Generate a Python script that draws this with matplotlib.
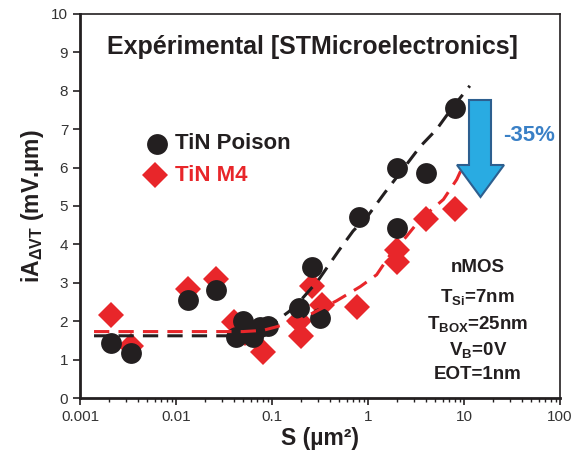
# -*- coding: utf-8 -*-

import numpy as np
import matplotlib
matplotlib.use('Agg')
import matplotlib.pyplot as plt
from matplotlib.patches import Polygon

plt.rcParams['font.family'] = ['Liberation Sans', 'DejaVu Sans']
plt.rcParams['mathtext.fontset'] = 'custom'
plt.rcParams['mathtext.rm'] = 'Liberation Sans'
plt.rcParams['mathtext.bf'] = 'Liberation Sans:bold'
plt.rcParams['mathtext.it'] = 'Liberation Sans:italic'

# measured data
s_poison = [0.0021, 0.0034, 0.0132, 0.026, 0.042, 0.050, 0.063, 0.075, 0.091,
            0.192, 0.263, 0.316, 0.81, 2.0, 2.0, 4.0, 8.0]
a_poison = [1.44, 1.18, 2.54, 2.82, 1.58, 2.01, 1.58, 1.85, 1.88,
            2.34, 3.41, 2.08, 4.72, 6.0, 4.43, 5.87, 7.56]

s_m4 = [0.0021, 0.0034, 0.0132, 0.026, 0.040, 0.052, 0.081, 0.19, 0.199,
        0.263, 0.33, 0.76, 2.0, 2.0, 4.0, 8.0]
a_m4 = [2.17, 1.36, 2.84, 3.10, 1.99, 1.70, 1.21, 2.0, 1.62,
        2.91, 2.43, 2.38, 3.86, 3.53, 4.65, 4.93]

# fitted trend lines
s_fit_poison = [0.0014, 0.04, 0.06, 0.08, 0.1, 0.15, 0.2, 0.3, 0.5, 0.7, 1.0,
                1.5, 2.3, 3.5, 5.2, 7.5, 9.5, 11.5]
a_fit_poison = [1.62, 1.62, 1.68, 1.78, 1.92, 2.25, 2.55, 3.05, 3.85, 4.35, 4.75,
                5.35, 5.95, 6.55, 7.0, 7.55, 7.87, 8.13]

s_fit_m4 = [0.0014, 0.05, 0.08, 0.11, 0.2, 0.3, 0.47, 0.83, 1.23, 1.7, 2.5,
            3.5, 6.1, 8.4, 10.0]
a_fit_m4 = [1.73, 1.73, 1.76, 1.85, 2.05, 2.28, 2.53, 2.9, 3.21, 3.73, 4.2,
            4.65, 5.17, 5.69, 6.1]

black = '#231f20'
red = '#e8262a'

fig = plt.figure(figsize=(5.73, 4.57), dpi=100)
ax = fig.add_axes([80 / 573, 1 - 398 / 457, 480 / 573, 384 / 457])

ax.plot(s_m4, a_m4, 'D', color=red, markersize=13, markeredgewidth=0, zorder=2)
ax.plot(s_poison, a_poison, 'o', color=black, markersize=15, markeredgewidth=0, zorder=3)
ax.plot(s_fit_poison, a_fit_poison, color=black, lw=2.2, dashes=(5, 3), zorder=4)
ax.plot(s_fit_m4, a_fit_m4, color=red, lw=2.2, dashes=(5, 3), zorder=4)

ax.set_xscale('log')
ax.set_xlim(0.001, 100)
ax.set_ylim(0, 10)
ax.set_yticks(range(0, 11))
ax.set_xticks([0.001, 0.01, 0.1, 1, 10, 100])
ax.set_xticklabels(['0.001', '0.01', '0.1', '1', '10', '100'])
ax.tick_params(axis='both', which='major', direction='out', length=5, width=1.2,
               labelsize=11, labelcolor='#333333', color=black)
ax.tick_params(axis='x', which='minor', direction='out', length=3, width=1, color=black)
ax.tick_params(axis='y', right=False)
for side in ['left', 'bottom']:
    ax.spines[side].set_linewidth(2)
    ax.spines[side].set_color(black)
for side in ['top', 'right']:
    ax.spines[side].set_linewidth(1.2)
    ax.spines[side].set_color(black)

ax.set_xlabel('S (µm²)', fontsize=16.5, fontweight='bold', color=black, labelpad=2)
ax.set_ylabel(r'iA$_{\mathbf{\Delta VT}}$ (mV.µm)', fontsize=16.5, fontweight='bold',
              color=black, labelpad=4)

ax.text(0.484, 0.914, 'Expérimental [STMicroelectronics]', transform=ax.transAxes,
        ha='center', va='center', fontsize=18, fontweight='bold', color=black)

# legend
ax.plot([0.0063], [6.62], 'o', color=black, markersize=15, markeredgewidth=0)
ax.plot([0.0061], [5.8], 'D', color=red, markersize=13, markeredgewidth=0)
ax.text(0.0098, 6.62, 'TiN Poison', fontsize=16, fontweight='bold', color=black,
        va='center', ha='left')
ax.text(0.0098, 5.8, 'TiN M4', fontsize=16, fontweight='bold', color=red,
        va='center', ha='left')

# arrow
def px(x, y):
    return ((x - 80) / 480, (398 - y) / 384)

arrow_pts = [px(469, 100), px(491, 100), px(491, 165), px(504, 165),
             px(480.5, 197), px(457, 165), px(469, 165)]
ax.add_patch(Polygon(arrow_pts, closed=True, transform=ax.transAxes,
                     facecolor='#29abe2', edgecolor='#2d5f8f', lw=1.5, zorder=5))
ax.text(0.99, 0.683, '-35%', transform=ax.transAxes, ha='right', va='center',
        fontsize=16, fontweight='bold', color='#3a80c6')

info = ['nMOS', r'$\mathbf{T_{Si}}$=7nm', r'$\mathbf{T_{BOX}}$=25nm',
        r'$\mathbf{V_B}$=0V', 'EOT=1nm']
info_y = [0.339, 0.263, 0.193, 0.125, 0.060]
for line, yy in zip(info, info_y):
    ax.text(0.829, yy, line, transform=ax.transAxes, ha='center',
            va='center', fontsize=13.5, fontweight='bold', color=black)

fig.savefig('out.png', dpi=100)
